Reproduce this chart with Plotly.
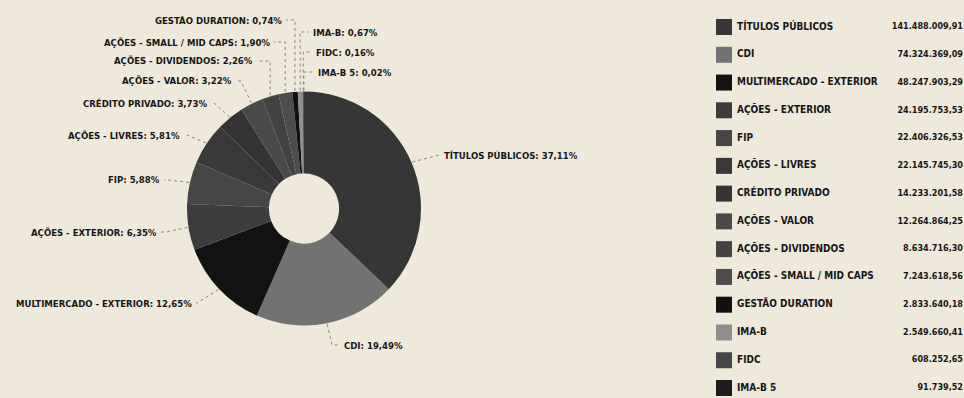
import math
import plotly.graph_objects as go

# ---------------- data ----------------
categories = [
    "TÍTULOS PÚBLICOS", "CDI", "MULTIMERCADO - EXTERIOR", "AÇÕES - EXTERIOR", "FIP",
    "AÇÕES - LIVRES", "CRÉDITO PRIVADO", "AÇÕES - VALOR", "AÇÕES - DIVIDENDOS",
    "AÇÕES - SMALL / MID CAPS", "GESTÃO DURATION", "IMA-B", "FIDC", "IMA-B 5",
]
values = [
    141488009.91, 74324369.09, 48247903.29, 24195753.53, 22406326.53,
    22145745.30, 14233201.58, 12264864.25, 8634716.30,
    7243618.56, 2833640.18, 2549660.41, 608252.65, 91739.52,
]
percent_labels = [
    "37,11%", "19,49%", "12,65%", "6,35%", "5,88%",
    "5,81%", "3,73%", "3,22%", "2,26%",
    "1,90%", "0,74%", "0,67%", "0,16%", "0,02%",
]

# ---------------- styles ----------------
colors = [
    "#363636", "#727272", "#121212", "#3c3c3c", "#464646",
    "#393939", "#343434", "#4a4a4a", "#434343",
    "#4d4d4d", "#101010", "#8e8e8e", "#484848", "#1c1c1c",
]
BG = "#efe9dc"
INK = "#161616"
FONT = "Liberation Sans Narrow, DejaVu Sans Condensed, Arial Narrow, sans-serif"
W, H = 964, 398

# pie geometry (pixels)
CX, CY, R = 304, 208.5, 117
HOLE = 0.30

# label layout: side, text x, text y, elbow x (None -> vertical from anchor)
label_layout = [
    ("left", 443, 155, 439),
    ("left", 343, 345, 332),
    ("right", 193, 303, 197),
    ("right", 158, 232, 166),
    ("right", 161, 180, 168),
    ("right", 181, 135, 187),
    ("right", 208, 103, 214),
    ("right", 233, 81, 241),
    ("right", 254, 61, None),
    ("right", 271, 42, None),
    ("right", 283, 20, None),
    ("left", 312, 32, None),
    ("left", 315, 52, None),
    ("left", 317, 72, None),
]

# legend layout (pixels)
SW_X, NAME_X, VAL_X = 724, 737, 963
ROW0, ROW_STEP = 27, 27.77


def px(x):
    return x / W


def py(y):
    return 1 - y / H


def br(v):
    s = f"{v:,.2f}"
    return s.replace(",", "X").replace(".", ",").replace("X", ".")


fig = go.Figure()

fig.add_trace(go.Pie(
    labels=categories,
    values=values,
    sort=False,
    direction="clockwise",
    rotation=0,
    hole=HOLE,
    textinfo="none",
    marker=dict(colors=colors, line=dict(width=0)),
    domain=dict(x=[px(CX - R), px(CX + R)], y=[py(CY + R), py(CY - R)]),
    showlegend=False,
    hoverinfo="label+value+percent",
))

# legend table on a hidden axis (rows by index)
rows = list(range(len(categories)))
y_lo = -ROW0 / ROW_STEP
y_hi = (H - ROW0) / ROW_STEP
fig.add_trace(go.Scatter(
    x=[SW_X] * len(rows), y=rows, mode="markers",
    marker=dict(symbol="square", size=16, color=colors, line=dict(width=0)),
    showlegend=False, hoverinfo="skip",
))
fig.add_trace(go.Scatter(
    x=[NAME_X] * len(rows), y=rows, mode="text", text=categories,
    textposition="middle right",
    textfont=dict(family=FONT, size=10, color=INK, weight="bold"),
    showlegend=False, hoverinfo="skip",
))
fig.add_trace(go.Scatter(
    x=[VAL_X] * len(rows), y=rows, mode="text", text=[br(v) for v in values],
    textposition="middle left",
    textfont=dict(family=FONT, size=9, color=INK, weight="bold"),
    showlegend=False, hoverinfo="skip",
))

# leader lines and outside labels, anchored at slice mid-angles
total = sum(values)
cum = 0.0
shapes = []
annotations = []
for i, v in enumerate(values):
    mid = (cum + v / 2) / total
    cum += v
    th = 2 * math.pi * mid
    ax = CX + (R + 1) * math.sin(th)
    ay = CY - (R + 1) * math.cos(th)
    side, tx, ty, ex = label_layout[i]
    if ex is None:
        ex = ax
    end_x = tx - 3 if side == "left" else tx + 3
    pts = [(ax, ay), (ex, ty), (end_x, ty)]
    path = "M " + " L ".join(f"{px(x):.5f},{py(y):.5f}" for x, y in pts)
    shapes.append(dict(type="path", xref="paper", yref="paper", path=path,
                       line=dict(color="#8a847a", width=1, dash="dot")))
    annotations.append(dict(
        x=px(tx), y=py(ty), xref="paper", yref="paper",
        xanchor=side, yanchor="middle", showarrow=False,
        text=f"{categories[i]}: {percent_labels[i]}",
        font=dict(family=FONT, size=9.5, color=INK, weight="bold"),
        borderpad=0,
    ))

fig.update_layout(
    width=W, height=H,
    margin=dict(l=0, r=0, t=0, b=0),
    paper_bgcolor=BG, plot_bgcolor="rgba(0,0,0,0)",
    xaxis=dict(domain=[0, 1], range=[0, W], visible=False, fixedrange=True),
    yaxis=dict(domain=[0, 1], range=[y_hi, y_lo], visible=False, fixedrange=True),
    shapes=shapes,
    annotations=annotations,
    showlegend=False,
)

fig.write_html("out.html")
